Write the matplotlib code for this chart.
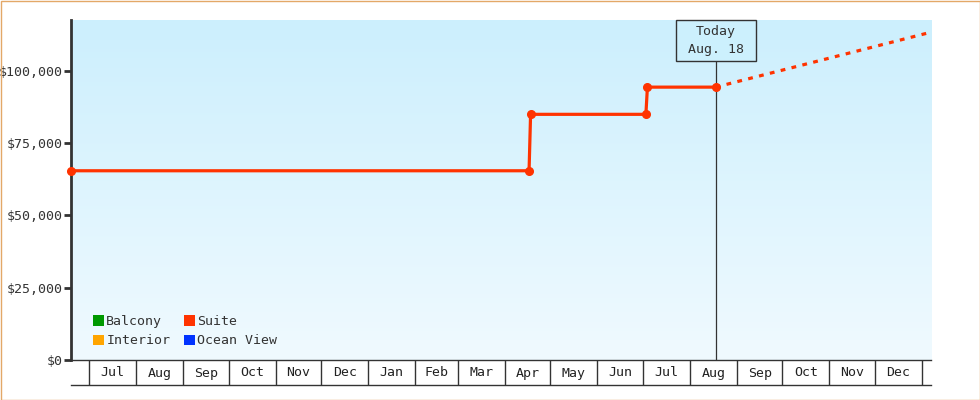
import matplotlib
matplotlib.use('Agg')
from matplotlib import pyplot as plt
from matplotlib.patches import Patch, Rectangle
import matplotlib.dates as mdates
import matplotlib.transforms as mtransforms
import numpy as np
from datetime import datetime

# price history for the suite cabin
suite_dates = ['2022-06-19', '2023-04-17', '2023-04-18', '2023-07-03', '2023-07-04', '2023-08-18']
suite_prices = [65400, 65400, 84900, 84900, 94300, 94300]

# projection after today
proj_dates = ['2023-08-18', '2024-01-07']
proj_prices = [94300, 113300]

today = '2023-08-18'
today_label = 'Today\nAug. 18'

months = ['Jul', 'Aug', 'Sep', 'Oct', 'Nov', 'Dec', 'Jan', 'Feb', 'Mar',
          'Apr', 'May', 'Jun', 'Jul', 'Aug', 'Sep', 'Oct', 'Nov', 'Dec']
first_month = datetime(2022, 7, 1)

legend_names = ['Balcony', 'Interior', 'Suite', 'Ocean View']
legend_colors = ['#009900', '#ffa500', '#ff3300', '#0033ff']

y_ticks = [0, 25000, 50000, 75000, 100000]

text_color = '#333333'
line_color = '#ff3300'
plt.rcParams['font.family'] = ['DejaVu Sans Mono']
plt.rcParams['font.size'] = 9.5

def d(s):
    return datetime.strptime(s, '%Y-%m-%d')

fig = plt.figure(figsize=(9.8, 4), dpi=100)
fig.patch.set_facecolor('white')
fig.patches.append(Rectangle((0.5/980, 0.5/400), 1 - 1/980, 1 - 1/400, transform=fig.transFigure,
                             fill=False, edgecolor='#e3a868', linewidth=1.0))

L, R, T, B = 71, 931, 20, 360
ax = fig.add_axes([L/980, 1 - B/400, (R - L)/980, (B - T)/400])

x0 = mdates.date2num(datetime(2022, 6, 19, 2))
x1 = mdates.date2num(datetime(2024, 1, 6, 22))

# background gradient
grad = np.linspace(0, 1, 256).reshape(-1, 1)
top_c = np.array([204, 239, 253]) / 255
bot_c = np.array([240, 250, 255]) / 255
img = top_c + (bot_c - top_c) * grad
ax.imshow(img.reshape(256, 1, 3), extent=(0, 1, 0, 1), transform=ax.transAxes,
          aspect='auto', zorder=0, origin='upper')
ax.set_xlim(x0, x1)
ax.set_ylim(0, 117500)

for s in ['top', 'right']:
    ax.spines[s].set_visible(False)
ax.spines['left'].set_color(text_color)
ax.spines['left'].set_linewidth(2)
ax.spines['bottom'].set_color(text_color)
ax.spines['bottom'].set_linewidth(1)
ax.set_xticks([])
ax.set_yticks(y_ticks)
ax.set_yticklabels(['$' + format(v, ',') for v in y_ticks])
ax.tick_params(axis='y', length=5, width=2, color=text_color, labelcolor=text_color, pad=1)

# price line
sx = [d(s) for s in suite_dates]
ax.plot(sx, suite_prices, color=line_color, linewidth=2.3, marker='o', markersize=5.5,
        clip_on=False, zorder=4)
ax.plot([d(s) for s in proj_dates], proj_prices, color=line_color, linewidth=2.3,
        linestyle=(0, (1.5, 2.0)), dash_capstyle='butt', zorder=4)

# today marker
blend = mtransforms.blended_transform_factory(ax.transData, ax.transAxes)
box_h = 41 / 340
ax.plot([d(today), d(today)], [0, 1 - box_h], color=text_color, linewidth=0.9,
        transform=blend, zorder=3)
tnum = mdates.date2num(d(today))
half = 40 / (860 / (x1 - x0))
ax.add_patch(Rectangle((tnum - half, 1 - box_h), 2 * half, box_h, transform=blend,
                       facecolor='#ccf0fd', edgecolor=text_color, linewidth=1, zorder=5, clip_on=False))
ax.text(tnum, 1 - box_h / 2, today_label, transform=blend,
        ha='center', va='center', color=text_color, linespacing=1.45, zorder=6)

# legend
handles = [Patch(facecolor=c, edgecolor='none') for c in legend_colors]
ax.legend(handles, legend_names, ncol=2, loc='lower left', bbox_to_anchor=(0.025, 0.037),
          frameon=False, handlelength=0.85, handleheight=0.85, handletextpad=0.2,
          labelspacing=0.48, columnspacing=1.0, borderpad=0, borderaxespad=0,
          labelcolor=text_color)

# month band below the plot
bx = fig.add_axes([L/980, 1 - 385/400, (R - L)/980, 25/400], sharex=ax)
bx.set_ylim(0, 1)
bx.patch.set_alpha(0)
for s in ['top', 'right', 'left']:
    bx.spines[s].set_visible(False)
bx.spines['bottom'].set_color(text_color)
bx.spines['bottom'].set_linewidth(1)
bx.tick_params(left=False, labelleft=False, bottom=False, labelbottom=False)

starts = []
yy, mm = first_month.year, first_month.month
for i in range(len(months) + 1):
    starts.append(datetime(yy, mm, 1))
    mm += 1
    if mm > 12:
        mm = 1
        yy += 1
for s in starts:
    bx.plot([s, s], [0, 1], color=text_color, linewidth=1)
for i, name in enumerate(months):
    mid = starts[i] + (starts[i + 1] - starts[i]) / 2
    bx.text(mid, 0.48, name, ha='center', va='center', color='#222222')
bx.set_xlim(x0, x1)

fig.savefig('out.png', dpi=100)
